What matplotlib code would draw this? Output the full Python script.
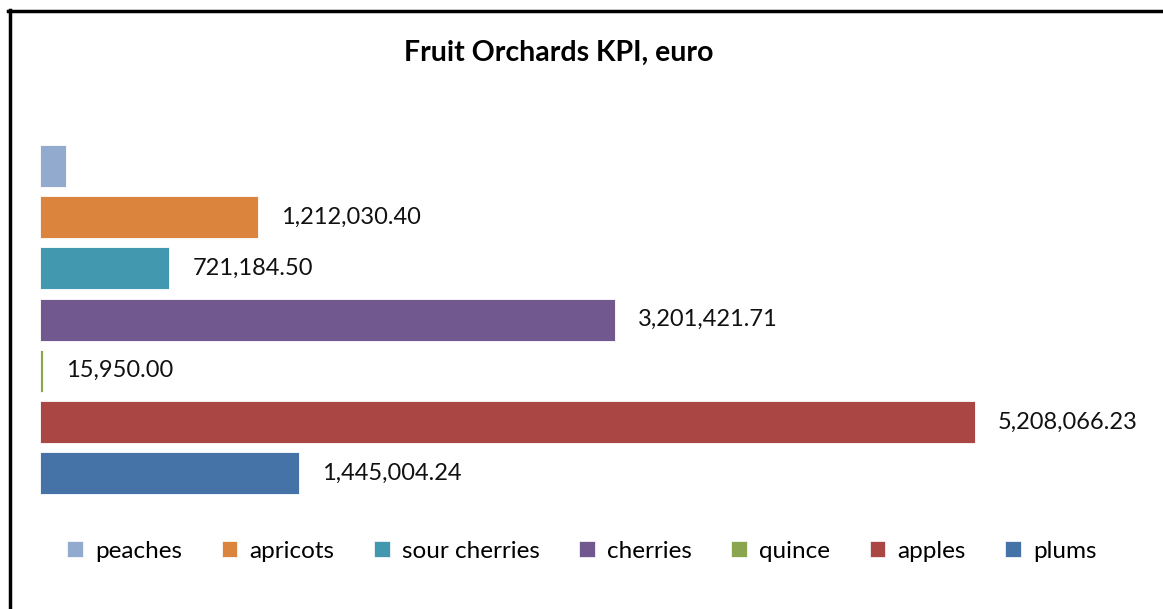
import matplotlib.pyplot as plt
from matplotlib.patches import Patch
from matplotlib.lines import Line2D

# datos (de abajo hacia arriba)
frutas = ["plums", "apples", "quince", "cherries", "sour cherries", "apricots", "peaches"]
valores = [1445004.24, 5208066.23, 15950.00, 3201421.71, 721184.50, 1212030.40, 145000.0]
etiquetas = ["1,445,004.24", "5,208,066.23", "15,950.00", "3,201,421.71",
             "721,184.50", "1,212,030.40", None]
colores = ["#4572A7", "#AA4643", "#89A54E", "#71588F", "#4198AF", "#DB843D", "#93AACF"]

plt.rcParams['font.family'] = ['Lato', 'DejaVu Sans']

fig = plt.figure(figsize=(11.63, 6.09), dpi=100)
W, H = 1163, 609
ax = fig.add_axes([40 / W, (H - 498.6) / H, 1077 / W, 358 / H])

pos = list(range(len(frutas)))
ax.barh(pos, valores, height=0.82, color=colores, edgecolor="white", linewidth=0.6)
for p, v, t in zip(pos, valores, etiquetas):
    if t:
        ax.annotate(t, (v, p), xytext=(23, 0), textcoords="offset pixels",
                    va="center", ha="left", fontsize=17, color="#111111")

ax.set_xlim(0, 6000000)
ax.set_ylim(-0.5, 6.5)
ax.axis("off")

fig.text(559 / W, 1 - 53 / H, "Fruit Orchards KPI, euro", ha="center", va="center",
         fontsize=20.5, fontweight="bold")

handles = [Patch(facecolor=c, edgecolor="white", linewidth=0.5) for c in colores[::-1]]
fig.legend(handles, frutas[::-1], loc="center", bbox_to_anchor=(582 / W, 1 - 551 / H),
           ncol=7, frameon=False, fontsize=17.5, handlelength=0.65, handleheight=0.65,
           handletextpad=0.5, columnspacing=1.62)

# marco negro arriba e izquierda
fig.add_artist(Line2D([8 / W, 1], [1 - 10.5 / H, 1 - 10.5 / H], color="black", lw=2.5))
fig.add_artist(Line2D([9.5 / W, 9.5 / W], [0, 1 - 9.5 / H], color="black", lw=2.5))

fig.savefig("out.png", dpi=100)
